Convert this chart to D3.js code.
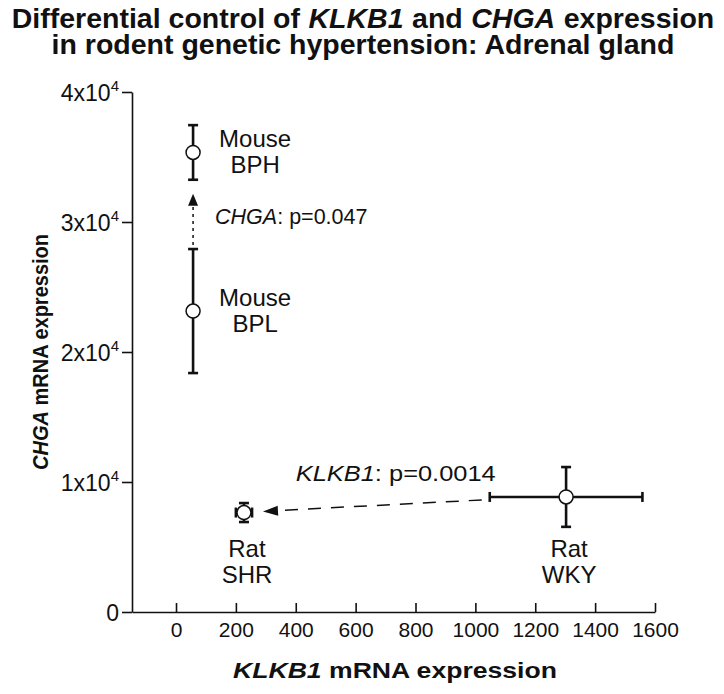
<!DOCTYPE html>
<html>
<head>
<meta charset="utf-8">
<script src="https://cdn.jsdelivr.net/npm/d3@7"></script>
<style>
  body { margin: 0; background: #fff; }
  svg text { font-family: "Liberation Sans", Arial, Helvetica, sans-serif; fill: #111; }
</style>
</head>
<body>
<div id="chart"></div>
<script>
// Adrenal gland: KLKB1 vs CHGA mRNA expression, mean ± error per strain
const species = ['Mouse', 'Mouse', 'Rat', 'Rat'];
const strains = ['BPH', 'BPL', 'SHR', 'WKY'];
const klkb1Mean = [57, 57, 227, 1303];
const klkb1Err = [0, 0, 27, 255];
const chgaMean = [35350, 23150, 7650, 8850];
const chgaErr = [2100, 4770, 730, 2300];

const xTicks = [0, 200, 400, 600, 800, 1000, 1200, 1400, 1600];
const yTicks = [0, 10000, 20000, 30000, 40000];
const yTickBase = ['0', '1x10', '2x10', '3x10', '4x10'];

// comparisons drawn as arrows: from -> to strain
const compGene = ['CHGA', 'KLKB1'];
const compP = ['0.047', '0.0014'];
const compFrom = ['BPL', 'WKY'];
const compTo = ['BPH', 'SHR'];

const width = 724, height = 694;
const svg = d3.select('#chart').append('svg')
    .attr('width', width)
    .attr('height', height);

const x = d3.scaleLinear().domain([-147, 1600]).range([132, 655]);
const y = d3.scaleLinear().domain([0, 40000]).range([612, 92]);

const pts = strains.map((s, i) => ({
    species: species[i], strain: s,
    x: klkb1Mean[i], xe: klkb1Err[i],
    y: chgaMean[i], ye: chgaErr[i]
}));
const byStrain = Object.fromEntries(pts.map(d => [d.strain, d]));

// Title: each word group is its own text, laid out left to right and centred
const titleLines = [
    [['Differential control of', 0], ['KLKB1', 1], ['and', 0], ['CHGA', 1], ['expression', 0]],
    [['in rodent genetic hypertension: Adrenal gland', 0]]
];
const titleSize = 28.5;
titleLines.forEach((parts, li) => {
    const g = svg.append('g').attr('font-size', titleSize).attr('font-weight', 'bold');
    const gap = titleSize * 0.3;
    let cx = 0;
    parts.forEach(([s, it]) => {
        const t = g.append('text').attr('x', cx).attr('y', 0)
            .attr('font-style', it ? 'italic' : 'normal').text(s);
        cx += t.node().getComputedTextLength() + gap;
    });
    const total = cx - gap;
    g.attr('transform', `translate(${363 - total / 2},${28 + li * 26})`);
});

// Axes
const xAxis = svg.append('g')
    .attr('transform', `translate(0,${y(0)})`)
    .call(d3.axisBottom(x).tickValues(xTicks).tickFormat(d3.format('d'))
        .tickSizeInner(-9).tickSizeOuter(0).tickPadding(10));
xAxis.select('.domain').attr('stroke', '#111').attr('stroke-width', 1.6);
xAxis.selectAll('.tick line').attr('stroke', '#111').attr('stroke-width', 1.6);
xAxis.selectAll('.tick text').attr('font-size', 21).attr('font-family', null).attr('fill', '#111');

const yAxis = svg.append('g')
    .attr('transform', `translate(${x.range()[0]},0)`)
    .call(d3.axisLeft(y).tickValues(yTicks).tickFormat('')
        .tickSizeInner(10).tickSizeOuter(0).tickPadding(3));
yAxis.select('.domain').attr('stroke', '#111').attr('stroke-width', 1.6);
yAxis.selectAll('.tick line').attr('stroke', '#111').attr('stroke-width', 1.6);
yAxis.selectAll('.tick text').each(function (d, i) {
    const t = d3.select(this).attr('font-size', 23).attr('font-family', null).attr('fill', '#111')
        .attr('dy', '0.36em');
    t.append('tspan').text(yTickBase[i]);
    if (d > 0) t.append('tspan').attr('font-size', 15).attr('dy', -10).text('4');
});

// Axis titles
const xt = svg.append('text')
    .attr('x', 395).attr('y', 678)
    .attr('text-anchor', 'middle')
    .attr('font-size', 22).attr('font-weight', 'bold')
    .attr('textLength', 324).attr('lengthAdjust', 'spacingAndGlyphs');
xt.append('tspan').attr('font-style', 'italic').text('KLKB1');
xt.append('tspan').text(' mRNA expression');

const yt = svg.append('text')
    .attr('transform', `translate(48,${(y(0) + y(40000)) / 2}) rotate(-90)`)
    .attr('text-anchor', 'middle')
    .attr('font-size', 22).attr('font-weight', 'bold')
    .attr('textLength', 236).attr('lengthAdjust', 'spacingAndGlyphs');
yt.append('tspan').attr('font-style', 'italic').text('CHGA');
yt.append('tspan').text(' mRNA expression');

// Comparison arrows
const arrows = svg.append('g');
function arrowhead(tip, from, len, half) {
    const dx = tip[0] - from[0], dy = tip[1] - from[1];
    const L = Math.hypot(dx, dy), ux = dx / L, uy = dy / L;
    const bx = tip[0] - ux * len, by = tip[1] - uy * len;
    arrows.append('path')
        .attr('d', `M${tip[0]},${tip[1]}L${bx - uy * half},${by + ux * half}L${bx + uy * half},${by - ux * half}Z`)
        .attr('fill', '#111');
    return [bx, by];
}

// CHGA: vertical, BPL -> BPH
{
    const a = byStrain[compFrom[0]], b = byStrain[compTo[0]];
    const start = [x(a.x), y(a.y + a.ye) - 4];
    const tip = [x(b.x), y(b.y - b.ye) + 14];
    const base = arrowhead(tip, start, 12, 5);
    arrows.append('line')
        .attr('x1', start[0]).attr('y1', start[1]).attr('x2', base[0]).attr('y2', base[1])
        .attr('stroke', '#111').attr('stroke-width', 1.5).attr('stroke-dasharray', '3,4');
    const lab = arrows.append('text')
        .attr('x', start[0] + 22).attr('y', (start[1] + tip[1]) / 2 + 5)
        .attr('font-size', 21.5);
    lab.append('tspan').attr('font-style', 'italic').text(compGene[0]);
    lab.append('tspan').text(': p=' + compP[0]);
}

// KLKB1: WKY -> SHR
{
    const a = byStrain[compFrom[1]], b = byStrain[compTo[1]];
    const start = [x(a.x - a.xe) - 8, y(a.y) + 3];
    const tip = [x(b.x) + 19, y(b.y) - 1];
    const base = arrowhead(tip, start, 15, 5);
    arrows.append('line')
        .attr('x1', start[0]).attr('y1', start[1]).attr('x2', base[0] - 4).attr('y2', base[1])
        .attr('stroke', '#111').attr('stroke-width', 1.5).attr('stroke-dasharray', '13,10');
    const lab = arrows.append('text')
        .attr('x', start[0] + 14).attr('y', start[1] - 19)
        .attr('text-anchor', 'end')
        .attr('font-size', 22)
        .attr('textLength', 200).attr('lengthAdjust', 'spacingAndGlyphs');
    lab.append('tspan').attr('font-style', 'italic').text(compGene[1]);
    lab.append('tspan').text(': p=' + compP[1]);
}

// Error bars
const cap = 5;
const eb = svg.append('g').attr('stroke', '#111').attr('stroke-width', 2.6).attr('fill', 'none');
pts.forEach(d => {
    if (d.ye > 0) {
        eb.append('line').attr('x1', x(d.x)).attr('x2', x(d.x)).attr('y1', y(d.y - d.ye)).attr('y2', y(d.y + d.ye));
        [d.y - d.ye, d.y + d.ye].forEach(v =>
            eb.append('line').attr('x1', x(d.x) - cap).attr('x2', x(d.x) + cap).attr('y1', y(v)).attr('y2', y(v)));
    }
    if (d.xe > 0) {
        eb.append('line').attr('y1', y(d.y)).attr('y2', y(d.y)).attr('x1', x(d.x - d.xe)).attr('x2', x(d.x + d.xe));
        [d.x - d.xe, d.x + d.xe].forEach(v =>
            eb.append('line').attr('y1', y(d.y) - cap).attr('y2', y(d.y) + cap).attr('x1', x(v)).attr('x2', x(v)));
    }
});

// Points
svg.append('g').selectAll('circle').data(pts).join('circle')
    .attr('cx', d => x(d.x)).attr('cy', d => y(d.y)).attr('r', 7)
    .attr('fill', '#fff').attr('stroke', '#111').attr('stroke-width', 1.5);

// Point labels: mouse to the right of the point, rat on a shared row below
const labels = svg.append('g').attr('font-size', 24).attr('text-anchor', 'middle');
const ratRow = y(0) - 55;
pts.forEach(d => {
    const mouse = d.species === 'Mouse';
    const lx = mouse ? x(d.x) + 62 : x(d.x) + 3;
    const ly = mouse ? y(d.y) - 5 : ratRow;
    labels.append('text').attr('x', lx).attr('y', ly).text(d.species);
    labels.append('text').attr('x', lx).attr('y', ly + 26).text(d.strain);
});
</script>
</body>
</html>
